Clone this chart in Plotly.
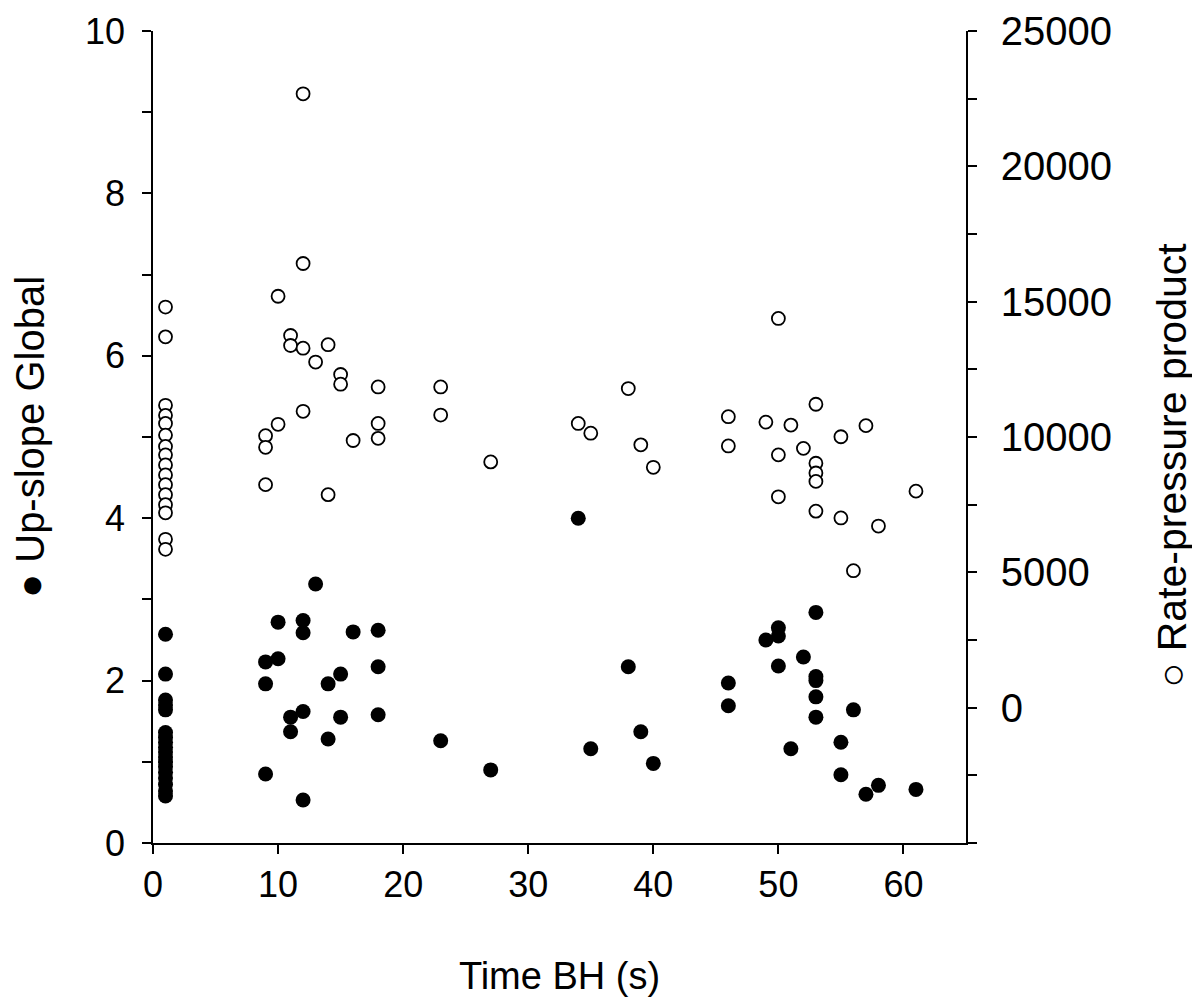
import plotly.graph_objects as go

# Up-slope Global (filled circles, left axis)
time_slope = [1, 1, 1, 1, 1, 1, 1, 1, 1, 1, 1, 1, 1, 1, 1, 1, 1, 1,
              9, 9, 9, 10, 10, 11, 11, 12, 12, 12, 12, 13, 14, 14, 15, 15, 16,
              18, 18, 18, 23, 27, 34, 35, 38, 39, 40, 46, 46, 49, 50, 50, 50,
              51, 52, 53, 53, 53, 53, 53, 55, 55, 56, 57, 58, 61]
slope = [2.57, 2.08, 1.76, 1.70, 1.64, 1.36, 1.30, 1.24, 1.18, 1.12, 1.06, 1.00, 0.94, 0.87, 0.80, 0.72, 0.64, 0.58,
         2.23, 1.96, 0.85, 2.72, 2.27, 1.55, 1.37, 2.74, 2.59, 1.62, 0.53, 3.19, 1.96, 1.28, 2.08, 1.55, 2.60,
         2.62, 2.17, 1.58, 1.26, 0.90, 4.00, 1.16, 2.17, 1.37, 0.98, 1.97, 1.69, 2.50, 2.65, 2.55, 2.18,
         1.16, 2.29, 2.84, 2.05, 2.00, 1.80, 1.55, 1.24, 0.84, 1.64, 0.60, 0.71, 0.66]

# Rate-pressure product (open circles, right axis)
time_rpp = [1, 1, 1, 1, 1, 1, 1, 1, 1, 1, 1, 1, 1, 1, 1, 1,
            9, 9, 9, 10, 10, 11, 11, 12, 12, 12, 12, 13, 14, 14, 15, 15, 16,
            18, 18, 18, 23, 23, 27, 34, 35, 38, 39, 40, 46, 46, 49, 50, 50, 50,
            51, 52, 53, 53, 53, 53, 53, 55, 55, 56, 57, 58, 61]
rpp = [14800, 13700, 11170, 10800, 10500, 10070, 9650, 9340, 8970, 8600, 8240, 7870, 7500, 7200, 6220, 5850,
       10050, 9620, 8240, 15200, 10470, 13750, 13380, 22680, 16410, 13280, 10950, 12770, 13410, 7870, 12310, 11950, 9870,
       11850, 10500, 9950, 11850, 10810, 9080, 10500, 10140, 11790, 9710, 8880, 10750, 9670, 10550, 14380, 9340, 7790,
       10440, 9580, 11210, 9030, 8670, 8360, 7260, 10010, 7010, 5060, 10420, 6710, 8000]

x_ticks = [0, 10, 20, 30, 40, 50, 60]
left_ticks = [0, 2, 4, 6, 8, 10]
right_ticks = [0, 5000, 10000, 15000, 20000, 25000]

FONT = "Arial, Liberation Sans, sans-serif"

fig = go.Figure()
fig.add_trace(go.Scatter(
    x=time_slope, y=slope, mode="markers", yaxis="y",
    marker=dict(symbol="circle", size=15, color="black", line=dict(width=0)),
    showlegend=False))
fig.add_trace(go.Scatter(
    x=time_rpp, y=rpp, mode="markers", yaxis="y2",
    marker=dict(symbol="circle", size=13, color="white", line=dict(width=1.8, color="black")),
    showlegend=False))

def axis_common(tsize):
    return dict(showgrid=False, zeroline=False, showline=True, linecolor="black", linewidth=1.5,
                ticks="outside", ticklen=9, tickwidth=1.5, tickcolor="black", automargin=False,
                ticklabeloverflow="allow",
                tickfont=dict(family=FONT, size=tsize, color="black"))

fig.update_layout(
    width=1200, height=1001,
    margin=dict(l=145, r=242, t=23, b=166),
    paper_bgcolor="white", plot_bgcolor="white",
    xaxis=dict(range=[0, 65], tickmode="array", tickvals=x_ticks, ticklabelstandoff=0,
               title=dict(text="Time BH (s)", font=dict(family=FONT, size=38, color="black"), standoff=58),
               **axis_common(36)),
    yaxis=dict(range=[0, 10], tickmode="array", tickvals=left_ticks, ticklabelstandoff=10,
               minor=dict(tickmode="linear", tick0=0, dtick=1, ticks="outside", ticklen=9,
                          tickwidth=1.5, tickcolor="black"),
               title=dict(text="\u25cf Up-slope Global", font=dict(family=FONT, size=40, color="black"), standoff=56),
               **axis_common(36)),
    yaxis2=dict(range=[-5000, 25000], overlaying="y", side="right", tickmode="array", tickvals=right_ticks,
                tickformat="d", ticklabelstandoff=16,
                minor=dict(tickmode="linear", tick0=-5000, dtick=2500, ticks="outside", ticklen=9,
                           tickwidth=1.5, tickcolor="black"),
                **axis_common(40)),
    annotations=[dict(text="\u25cb Rate-pressure product", textangle=-90, showarrow=False,
                      xref="paper", yref="paper", x=1.2534, y=0.465, xanchor="center", yanchor="middle",
                      font=dict(family=FONT, size=41, color="black"))],
)

fig.write_html("out.html")
